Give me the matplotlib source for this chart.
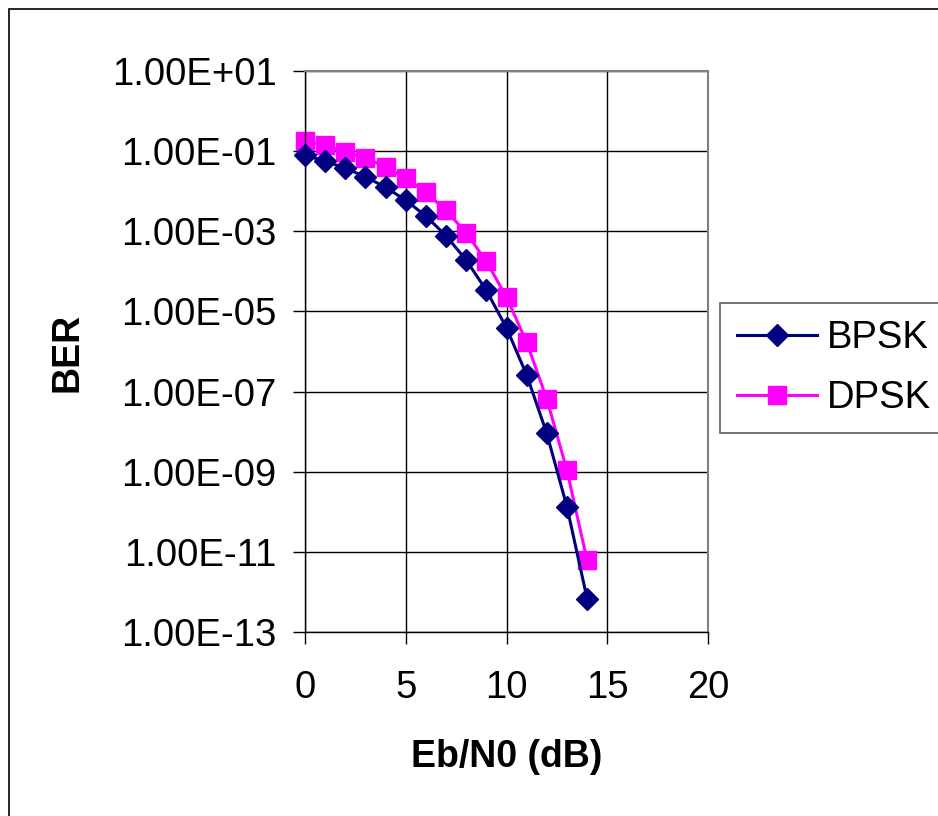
import matplotlib
matplotlib.use("Agg")
import matplotlib.pyplot as plt
from matplotlib.patches import Rectangle
from matplotlib.ticker import FixedLocator, FuncFormatter

plt.rcParams['font.family'] = ['Liberation Sans', 'DejaVu Sans']

ebn0 = [0, 1, 2, 3, 4, 5, 6, 7, 8, 9, 10, 11, 12, 13, 14]
bpsk = [7.86e-2, 5.63e-2, 3.75e-2, 2.29e-2, 1.25e-2, 5.95e-3, 2.39e-3, 7.73e-4,
        1.91e-4, 3.36e-5, 3.87e-6, 2.61e-7, 9.0e-9, 1.33e-10, 6.8e-13]
dpsk = [1.84e-1, 1.40e-1, 9.37e-2, 6.80e-2, 4.06e-2, 2.12e-2, 9.34e-3, 3.33e-3,
        9.1e-4, 1.77e-4, 2.27e-5, 1.7e-6, 6.5e-8, 1.09e-9, 6.1e-12]
yticks = [1e1, 1e-1, 1e-3, 1e-5, 1e-7, 1e-9, 1e-11, 1e-13]
xticks = [0, 5, 10, 15, 20]

W, H = 938, 816
fig = plt.figure(figsize=(W / 100, H / 100), dpi=100)
fig.patch.set_facecolor('white')

# outer chart border
fig.add_artist(Rectangle((9 / W, -0.01), 1.02, 1 - 9 / H + 0.01,
                         transform=fig.transFigure, fill=False,
                         edgecolor='black', linewidth=1.2))

ax = fig.add_axes([305 / W, 1 - 632 / H, (708 - 305) / W, (632 - 71) / H])
ax.set_yscale('log')
ax.set_xlim(0, 20)
ax.set_ylim(1e-13, 1e1)

ax.plot(ebn0, bpsk, color='#000080', linewidth=2.2, marker='D', markersize=11,
        markeredgewidth=1, markeredgecolor='#000080', markerfacecolor='#000080',
        label='BPSK', zorder=3, clip_on=False)
ax.plot(ebn0, dpsk, color='#FF00FF', linewidth=2.2, marker='s', markersize=12.5,
        markeredgewidth=1, markeredgecolor='#FF00FF', markerfacecolor='#FF00FF',
        label='DPSK', zorder=2, clip_on=False)

ax.yaxis.set_major_locator(FixedLocator(yticks))
ax.yaxis.set_minor_locator(FixedLocator([]))
ax.xaxis.set_major_locator(FixedLocator(xticks))


def fmt(v, pos):
    return '%.2E' % v


ax.yaxis.set_major_formatter(FuncFormatter(fmt))
ax.grid(True, which='major', color='black', linewidth=1.0)
ax.set_axisbelow(True)

for side in ['top', 'right']:
    ax.spines[side].set_color('#808080')
    ax.spines[side].set_linewidth(1.5)
for side in ['left', 'bottom']:
    ax.spines[side].set_color('black')
    ax.spines[side].set_linewidth(1.0)

ax.tick_params(axis='both', which='major', length=8.6, width=1.0, color='black',
               labelsize=27.5, direction='out')
ax.tick_params(axis='y', pad=12)
ax.tick_params(axis='x', pad=19)

fig.text(507 / W, 1 - 757 / H, 'Eb/N0 (dB)', fontsize=27, fontweight='bold',
         ha='center', va='center')
fig.text(68 / W, 1 - 352 / H, 'BER', fontsize=27, fontweight='bold',
         ha='center', va='center', rotation=90)

leg = ax.legend(loc='upper left', bbox_to_anchor=(720 / W, 1 - 303 / H),
                bbox_transform=fig.transFigure, fontsize=27.5, frameon=True,
                fancybox=False, shadow=False, handlelength=2.1,
                handletextpad=0.25, borderpad=0.45, labelspacing=0.62,
                borderaxespad=0)
leg.get_frame().set_edgecolor('#333333')
leg.get_frame().set_linewidth(1.2)

fig.savefig('out.png', dpi=100, facecolor='white')
